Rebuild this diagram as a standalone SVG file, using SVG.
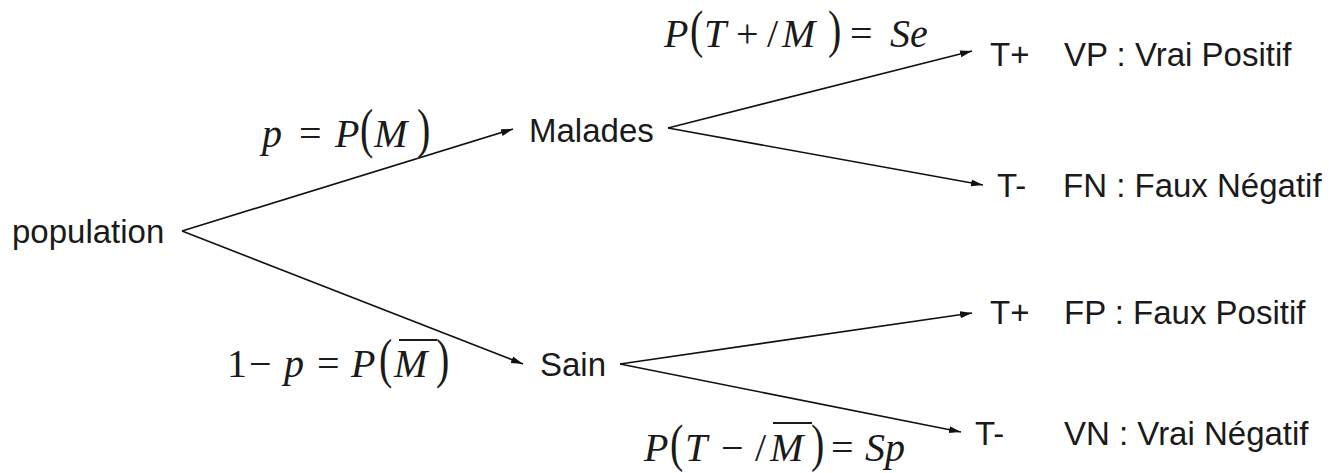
<svg xmlns="http://www.w3.org/2000/svg" width="1331" height="473" viewBox="0 0 1331 473">
<defs>
<marker id="arr" viewBox="0 0 12 8" refX="12" refY="4" markerWidth="12" markerHeight="8" markerUnits="userSpaceOnUse" orient="auto">
<path d="M0,0.5 L12,4 L0,7.5 Z" fill="#111"/>
</marker>
<style>
.n{font-family:"Liberation Sans",Arial,sans-serif;font-size:33px;fill:#1a1a1a}
.m{font-family:"Liberation Serif","Times New Roman",serif;font-size:40px;fill:#1a1a1a}
.i{font-style:italic}
.c{stroke:#111;stroke-width:1.6;fill:none}
.ob{stroke:#1a1a1a;stroke-width:2}
</style>
</defs>
<rect width="1331" height="473" fill="#fff"/>
<g id="connectors">
<line class="c" x1="182" y1="231" x2="513" y2="129" marker-end="url(#arr)"/>
<line class="c" x1="182" y1="231" x2="523" y2="364" marker-end="url(#arr)"/>
<line class="c" x1="668" y1="128" x2="972" y2="51" marker-end="url(#arr)"/>
<line class="c" x1="668" y1="128" x2="983" y2="185" marker-end="url(#arr)"/>
<line class="c" x1="620" y1="364" x2="972" y2="313" marker-end="url(#arr)"/>
<line class="c" x1="620" y1="364" x2="961" y2="432" marker-end="url(#arr)"/>
</g>
<g id="population"><text class="n" x="12" y="243">population</text></g>
<g id="malades"><text class="n" x="529" y="142">Malades</text></g>
<g id="sain"><text class="n" x="540" y="376">Sain</text></g>
<g id="vp"><text class="n" x="990" y="66">T+</text><text class="n" x="1064" y="66">VP : Vrai Positif</text></g>
<g id="fn"><text class="n" x="997" y="197">T-</text><text class="n" x="1063" y="197">FN : Faux Négatif</text></g>
<g id="fp"><text class="n" x="990" y="324">T+</text><text class="n" x="1064" y="324">FP : Faux Positif</text></g>
<g id="vn"><text class="n" x="975" y="445">T-</text><text class="n" x="1064" y="445">VN : Vrai Négatif</text></g>
<g id="label-se">
<text class="m i" x="664" y="47">P</text>
<text class="m" transform="translate(690,47) scale(1,1.3)">(</text>
<text class="m i" x="704" y="47">T</text>
<text class="m" x="736" y="47">+</text>
<text class="m" x="767" y="47">/</text>
<text class="m i" x="782" y="47">M</text>
<text class="m" transform="translate(828,47) scale(1,1.3)">)</text>
<text class="m" x="850" y="47">=</text>
<text class="m i" x="890" y="47">Se</text>
</g>
<g id="label-p">
<text class="m i" x="262" y="147">p</text>
<text class="m" x="299" y="147">=</text>
<text class="m i" x="335" y="147">P</text>
<text class="m" transform="translate(360,147) scale(1,1.35)">(</text>
<text class="m i" x="374" y="147">M</text>
<text class="m" transform="translate(417,147) scale(1,1.35)">)</text>
</g>
<g id="label-1p">
<text class="m" x="227" y="377">1</text>
<text class="m" x="249" y="377">−</text>
<text class="m i" x="284" y="377">p</text>
<text class="m" x="317" y="377">=</text>
<text class="m i" x="351" y="377">P</text>
<text class="m" transform="translate(379,377) scale(1,1.35)">(</text>
<text class="m i" x="394" y="377">M</text>
<line class="ob" x1="399" y1="340" x2="437" y2="340"/>
<text class="m" transform="translate(436,377) scale(1,1.35)">)</text>
</g>
<g id="label-sp">
<text class="m i" x="644" y="461">P</text>
<text class="m" transform="translate(670,461) scale(1,1.3)">(</text>
<text class="m i" x="685" y="461">T</text>
<text class="m" x="721" y="461">−</text>
<text class="m" x="755" y="461">/</text>
<text class="m i" x="770" y="461">M</text>
<line class="ob" x1="773" y1="423" x2="812" y2="423"/>
<text class="m" transform="translate(811,461) scale(1,1.3)">)</text>
<text class="m" x="831" y="461">=</text>
<text class="m i" x="865" y="461">Sp</text>
</g>
</svg>
